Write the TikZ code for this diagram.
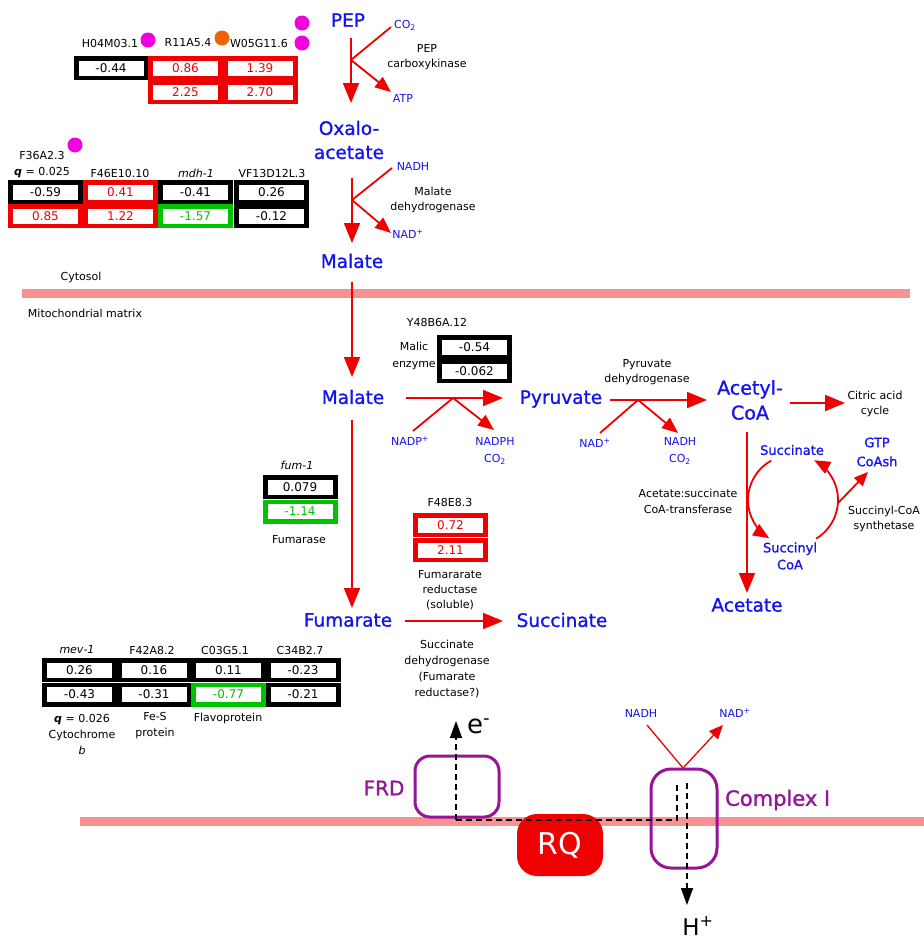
\documentclass[tikz,border=0pt]{standalone}
\usepackage{fontspec}
\setmainfont{DejaVu Sans}
\newfontfamily\heavyfont{DejaVu Sans}[FakeBold=1.2]
\usetikzlibrary{arrows.meta}
\definecolor{pblue}{RGB}{20,20,235}
\definecolor{pred}{RGB}{240,0,0}
\definecolor{pgreen}{RGB}{0,195,0}
\definecolor{ppink}{RGB}{248,145,145}
\definecolor{ppurple}{RGB}{150,20,150}
\definecolor{pmag}{RGB}{240,0,220}
\definecolor{porange}{RGB}{240,100,0}
\tikzset{
  big/.style={text=pblue, font=\heavyfont\fontsize{18.5}{24}\selectfont, inner sep=0pt, align=center},
  mid/.style={text=pblue, font=\heavyfont\fontsize{13}{17}\selectfont, inner sep=0pt, align=center},
  sb/.style={text=pblue, font=\fontsize{11}{17}\selectfont, inner sep=0pt, align=center},
  lbl/.style={text=black, font=\fontsize{11}{15}\selectfont, inner sep=0pt, align=center},
  hdr/.style={text=black, font=\fontsize{11}{16}\selectfont, inner sep=0pt, align=center},
  rline/.style={draw=pred, line width=1.8pt},
  rarr/.style={rline, -{Triangle[length=20pt,width=16pt]}},
  rarrs/.style={rline, -{Triangle[length=16pt,width=13pt]}},
  membrane/.style={draw=ppink, line width=9pt},
  cellframe/.style={rectangle, minimum width=75pt, minimum height=24pt, inner sep=0pt, draw=none},
  cellin/.style={rectangle, fill=white, minimum width=66pt, minimum height=16pt, inner sep=0pt, line width=0.6pt, font=\fontsize{12}{12}\selectfont},
  dotmark/.style={circle, minimum size=15pt, inner sep=0pt, draw=none},
  dashline/.style={draw=black, line width=1.5pt, dash pattern=on 6pt off 4pt},
  barr/.style={-{Triangle[length=17pt,width=12pt]}},
  protbox/.style={draw=ppurple, line width=3pt, fill=none, inner sep=0pt},
}
\newcommand{\vcell}[5]{%
  \node[cellframe, fill=#4] (#1f) at (#2,#3) {};
  \node[cellin, draw=#4, text=#4] (#1) at (#2,#3) {#5};}
\begin{document}
\begin{tikzpicture}[x=1pt,y=-1pt]
\useasboundingbox (0,0) rectangle (924,943);

% membranes
\coordinate (m1a) at (22,293); \coordinate (m1b) at (910,293);
\coordinate (m2a) at (80,821); \coordinate (m2b) at (924,821);
\draw[membrane] (m1a) -- (m1b);
\draw[membrane] (m2a) -- (m2b);
\node[lbl] (cyto) at (81,277) {Cytosol};
\node[lbl] (mito) at (85,313) {Mitochondrial matrix};

% metabolites
\node[big] (pep) at (348,20) {PEP};
\node[big] (oxa) at (349,140) {Oxalo-\\acetate};
\node[big] (malc) at (352,261) {Malate};
\node[big] (malm) at (353,397) {Malate};
\node[big] (pyr) at (561,399) {Pyruvate};
\node[big, font=\heavyfont\fontsize{19}{25}\selectfont] (acoa) at (750,400) {Acetyl-\\CoA};
\node[big] (acet) at (747,605) {Acetate};
\node[big] (fum) at (348,620) {Fumarate};
\node[big] (succ) at (562,620) {Succinate};

% small blue cofactors
\node[sb] (co2a) at (405,25) {CO\textsubscript{2}};
\node[sb] (atp) at (403,98) {ATP};
\node[sb] (nadh1) at (413,166) {NADH};
\node[sb] (nad1) at (408,234) {NAD\textsuperscript{+}};
\node[sb] (nadp) at (410,441) {NADP\textsuperscript{+}};
\node[sb] (nadph) at (495,451) {NADPH\\CO\textsubscript{2}};
\node[sb] (nad2) at (595,443) {NAD\textsuperscript{+}};
\node[sb] (nadh2) at (680,451) {NADH\\CO\textsubscript{2}};
\node[sb] (nadh3) at (641,713) {NADH};
\node[sb] (nad3) at (735,713) {NAD\textsuperscript{+}};

% cycle metabolites
\node[mid] (succi) at (792,450) {Succinate};
\node[mid, font=\heavyfont\fontsize{13}{19}\selectfont] (gtp) at (877,452) {GTP\\CoAsh};
\node[mid] (sucoa) at (790,556) {Succinyl\\CoA};

% enzyme labels
\node[lbl] (pepck) at (427,57) {PEP\\carboxykinase};
\node[lbl] (mdh) at (433,200) {Malate\\dehydrogenase};
\node[lbl, font=\fontsize{11}{17}\selectfont] (mae) at (414,356) {Malic\\enzyme};
\node[lbl] (pdh) at (647,372) {Pyruvate\\dehydrogenase};
\node[lbl] (cac) at (875,404) {Citric acid\\cycle};
\node[lbl, font=\fontsize{11}{16}\selectfont] (asct) at (688,501) {Acetate:succinate\\CoA-transferase};
\node[lbl] (scs) at (884,519) {Succinyl-CoA\\synthetase};
\node[lbl] (fumase) at (299,540) {Fumarase};
\node[lbl] (frdsol) at (450,590) {Fumararate\\reductase\\(soluble)};
\node[lbl, font=\fontsize{11}{16}\selectfont] (sdh) at (447,669) {Succinate\\dehydrogenase\\(Fumarate\\reductase?)};

% ---- PEP carboxykinase
\coordinate (a1s) at (351,38); \coordinate (a1j) at (351,60); \coordinate (a1e) at (351,103);
\coordinate (a1c) at (391,27); \coordinate (a1p) at (391,92);
\draw[rarr] (a1s) -- (a1e);
\draw[rline] (a1c) -- (a1j);
\draw[rarrs] (a1j) -- (a1p);

% ---- Malate dehydrogenase
\coordinate (a2s) at (352,178); \coordinate (a2j) at (352,200); \coordinate (a2e) at (352,243);
\coordinate (a2c) at (392,168); \coordinate (a2p) at (391,233);
\draw[rarr] (a2s) -- (a2e);
\draw[rline] (a2c) -- (a2j);
\draw[rarrs] (a2j) -- (a2p);

% ---- malate transport
\coordinate (a3s) at (352,282); \coordinate (a3e) at (352,377);
\draw[rarr] (a3s) -- (a3e);

% ---- malic enzyme
\coordinate (a4s) at (406,398); \coordinate (a4j) at (453,398); \coordinate (a4e) at (503,398);
\coordinate (a4c) at (413,431); \coordinate (a4p) at (494,430);
\draw[rarr] (a4s) -- (a4e);
\draw[rline] (a4c) -- (a4j);
\draw[rarrs] (a4j) -- (a4p);

% ---- pyruvate dehydrogenase
\coordinate (a5s) at (610,400); \coordinate (a5j) at (638,400); \coordinate (a5e) at (707,400);
\coordinate (a5c) at (600,433); \coordinate (a5p) at (678,433);
\draw[rarr] (a5s) -- (a5e);
\draw[rline] (a5c) -- (a5j);
\draw[rarrs] (a5j) -- (a5p);

% ---- acetyl-CoA -> citric acid cycle
\coordinate (a6s) at (790,403); \coordinate (a6e) at (845,403);
\draw[rarr] (a6s) -- (a6e);

% ---- acetyl-CoA -> acetate
\coordinate (a7s) at (747,432); \coordinate (a7e) at (747,593);
\draw[rarr] (a7s) -- (a7e);

% ---- succinate / succinyl-CoA cycle
\coordinate (cyc) at (793,500);
\draw[rarrs] ([shift={(241:45)}]cyc) arc[start angle=241, end angle=122, radius=45];
\draw[rarrs] ([shift={(59:45)}]cyc) arc[start angle=59, end angle=-62, radius=45];
\coordinate (gtpj) at ([shift={(4:45)}]cyc); \coordinate (gtpe) at (868,472);
\draw[rline, -{Triangle[length=14pt,width=12pt]}] (gtpj) -- (gtpe);

% ---- malate -> fumarate
\coordinate (a8s) at (352,420); \coordinate (a8e) at (352,608);
\draw[rarr] (a8s) -- (a8e);

% ---- fumarate -> succinate
\coordinate (a9s) at (405,621); \coordinate (a9e) at (503,621);
\draw[rarr] (a9s) -- (a9e);

% ---- table 1 (PEPCK)
\node[hdr] (h1) at (110,43) {H04M03.1};
\node[hdr] (h2) at (188,43) {R11A5.4};
\node[hdr] (h3) at (259,43) {W05G11.6};
\node[dotmark, fill=pmag] (dt1) at (148,40) {};
\node[dotmark, fill=porange] (dt2) at (222,38) {};
\node[dotmark, fill=pmag] (dt3) at (302,43) {};
\node[dotmark, fill=pmag] (dt4) at (302,23) {};
\vcell{t1a}{111}{68}{black}{-0.44}
\vcell{t1b}{185.5}{68}{pred}{0.86}
\vcell{t1c}{260}{68}{pred}{1.39}
\vcell{t1d}{185.5}{92}{pred}{2.25}
\vcell{t1e}{260}{92}{pred}{2.70}

% ---- table 2 (MDH)
\node[hdr] (h4) at (42,155) {F36A2.3};
\node[dotmark, fill=pmag] (dt5) at (75,145) {};
\node[hdr] (h5) at (42,173) {\textbf{\textit{q}} = 0.025};
\node[hdr] (h6) at (120,173) {F46E10.10};
\node[hdr] (h7) at (196,173) {\textit{mdh-1}};
\node[hdr] (h8) at (272,173) {VF13D12L.3};
\vcell{t2a}{45.5}{192}{black}{-0.59}
\vcell{t2b}{120.5}{192}{pred}{0.41}
\vcell{t2c}{195.5}{192}{black}{-0.41}
\vcell{t2d}{271.5}{192}{black}{0.26}
\vcell{t2e}{45.5}{216}{pred}{0.85}
\vcell{t2f}{120.5}{216}{pred}{1.22}
\vcell{t2g}{195.5}{216}{pgreen}{-1.57}
\vcell{t2h}{271.5}{216}{black}{-0.12}

% ---- malic enzyme table
\node[hdr] (h9) at (437,322) {Y48B6A.12};
\vcell{t3a}{474.5}{347}{black}{-0.54}
\vcell{t3b}{474.5}{371}{black}{-0.062}

% ---- fumarase table
\node[hdr] (h10) at (297,465) {\textit{fum-1}};
\vcell{t4a}{300}{487}{black}{0.079}
\vcell{t4b}{300}{511.5}{pgreen}{-1.14}

% ---- soluble fumarate reductase table
\node[hdr] (h11) at (450,502) {F48E8.3};
\vcell{t5a}{450.5}{525}{pred}{0.72}
\vcell{t5b}{450.5}{550}{pred}{2.11}

% ---- succinate dehydrogenase table
\node[hdr] (h12) at (77,650) {\textit{mev-1}};
\node[hdr] (h13) at (152,650) {F42A8.2};
\node[hdr] (h14) at (225,650) {C03G5.1};
\node[hdr] (h15) at (300,650) {C34B2.7};
\vcell{t6a}{79.5}{670}{black}{0.26}
\vcell{t6b}{154}{670}{black}{0.16}
\vcell{t6c}{228.5}{670}{black}{0.11}
\vcell{t6d}{303}{670}{black}{-0.23}
\vcell{t6e}{79.5}{694.5}{black}{-0.43}
\vcell{t6f}{154}{694.5}{black}{-0.31}
\vcell{t6g}{228.5}{694.5}{pgreen}{-0.77}
\vcell{t6h}{303}{694.5}{black}{-0.21}
\node[hdr] (h16) at (82,734) {\textbf{\textit{q}} = 0.026\\Cytochrome\\\textit{b}};
\node[hdr] (h17) at (155,726) {Fe-S\\protein};
\node[hdr] (h18) at (228,718) {Flavoprotein};

% ---- membrane complexes
\node[protbox, rounded corners=15pt, minimum width=84pt, minimum height=61pt] (frd) at (457,786.5) {};
\node[protbox, rounded corners=20pt, minimum width=66pt, minimum height=99pt] (cplx) at (684,818.5) {};
\node[text=ppurple, font=\heavyfont\fontsize{20}{20}\selectfont, inner sep=0pt] (frdl) at (384,788) {FRD};
\node[text=ppurple, font=\heavyfont\fontsize{21}{21}\selectfont, inner sep=0pt, anchor=west] (cplxl) at (725,800) {Complex I};
\node[fill=pred, rounded corners=20pt, minimum width=86pt, minimum height=62pt, inner sep=0pt, text=white, font=\fontsize{30}{30}\selectfont] (rq) at (560,845) {RQ};

% Complex I NADH -> NAD+
\coordinate (c1a) at (647,725); \coordinate (c1j) at (683,768); \coordinate (c1b) at (723,725);
\draw[draw=pred, line width=1.3pt] (c1a) -- (c1j);
\draw[draw=pred, line width=1.3pt, -{Triangle[length=14pt,width=12pt]}] (c1j) -- (c1b);

% electron / proton paths
\coordinate (d0) at (456,820); \coordinate (etip) at (456,721);
\coordinate (d1) at (677,820); \coordinate (d2) at (677,783);
\coordinate (d3) at (687,783); \coordinate (htip) at (687,905);
\draw[dashline, barr] (d0) -- (etip);
\draw[dashline] (d0) -- (d1) -- (d2);
\draw[dashline, barr] (d3) -- (htip);
\node[font=\fontsize{26}{26}\selectfont, inner sep=0pt, anchor=west] (elab) at (467,726) {e\textsuperscript{-}};
\node[font=\fontsize{23}{23}\selectfont, inner sep=0pt] (hlab) at (698,926) {H\textsuperscript{+}};
\end{tikzpicture}
\end{document}
